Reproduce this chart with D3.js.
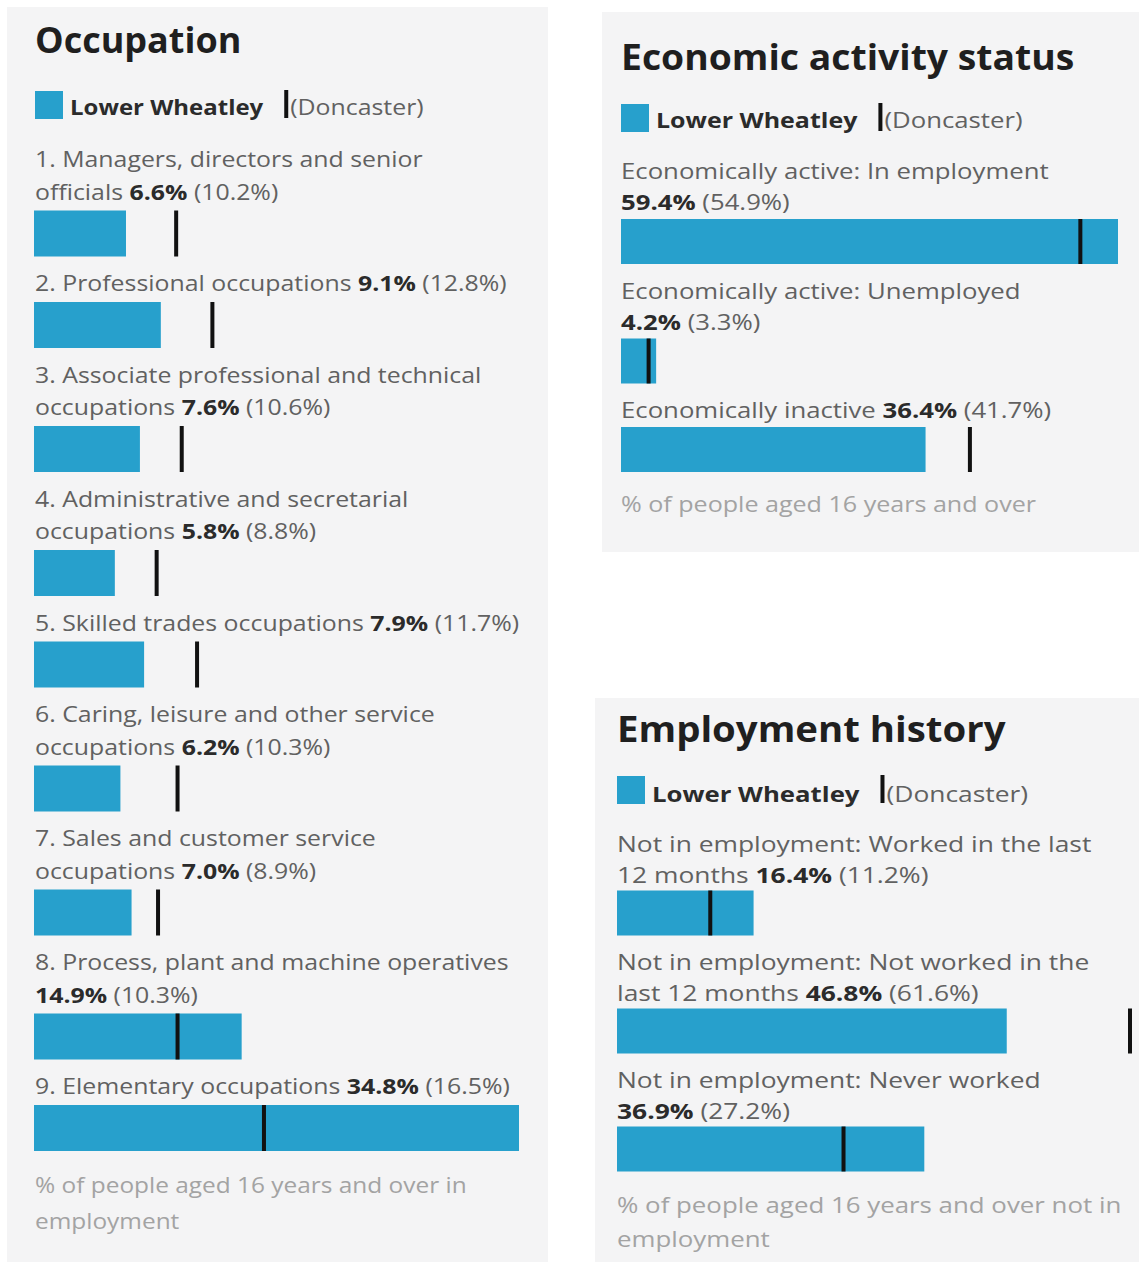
<!DOCTYPE html>
<html>
<head>
<meta charset="utf-8">
<script src="https://cdn.jsdelivr.net/npm/d3@7"></script>
<style>
  html, body { margin: 0; padding: 0; background: #ffffff; }
  svg { display: block; }
  text { font-family: "Open Sans", "Noto Sans", sans-serif; }
</style>
</head>
<body>
<svg id="chart" width="1139" height="1263"></svg>
<script>
// ---------------- DATA ----------------
const areaName = "Lower Wheatley";
const compareName = "(Doncaster)";

const occTitle = "Occupation";
const occLabels = [
  "1. Managers, directors and senior\nofficials",
  "2. Professional occupations",
  "3. Associate professional and technical\noccupations",
  "4. Administrative and secretarial\noccupations",
  "5. Skilled trades occupations",
  "6. Caring, leisure and other service\noccupations",
  "7. Sales and customer service\noccupations",
  "8. Process, plant and machine operatives\n",
  "9. Elementary occupations"
];
const occLocal = [6.6, 9.1, 7.6, 5.8, 7.9, 6.2, 7.0, 14.9, 34.8];
const occDoncaster = [10.2, 12.8, 10.6, 8.8, 11.7, 10.3, 8.9, 10.3, 16.5];
const occFooter = "% of people aged 16 years and over in\nemployment";

const ecoTitle = "Economic activity status";
const ecoLabels = [
  "Economically active: In employment\n",
  "Economically active: Unemployed\n",
  "Economically inactive"
];
const ecoLocal = [59.4, 4.2, 36.4];
const ecoDoncaster = [54.9, 3.3, 41.7];
const ecoFooter = "% of people aged 16 years and over";

const empTitle = "Employment history";
const empLabels = [
  "Not in employment: Worked in the last\n12 months",
  "Not in employment: Not worked in the\nlast 12 months",
  "Not in employment: Never worked\n"
];
const empLocal = [16.4, 46.8, 36.9];
const empDoncaster = [11.2, 61.6, 27.2];
const empFooter = "% of people aged 16 years and over not in\nemployment";

// ---------------- STYLE ----------------
const BAR = "#27a0cc";
const PANEL_BG = "#f4f4f5";
const TITLE_C = "#1f1f1f";
const LABEL_C = "#616161";
const VALUE_C = "#2b2b2b";
const FOOT_C = "#a3a3a3";
const MARK_C = "#111111";
const fmt = v => d3.format(".1f")(v) + "%";

const svg = d3.select("#chart");

// text drawn at (x, y) with a horizontal stretch sx
function stext(g, x, y, sx) {
  return g.append("text")
    .attr("transform", `translate(${x},${y}) scale(${sx},1)`)
    .attr("x", 0).attr("y", 0);
}

function drawPanel(cfg, title, labels, local, donc, footer) {
  const g = svg.append("g");
  g.append("rect")
    .attr("x", cfg.px).attr("y", cfg.py)
    .attr("width", cfg.pw).attr("height", cfg.ph)
    .attr("fill", PANEL_BG);

  stext(g, cfg.x0, cfg.titleY, cfg.titleSx)
    .attr("font-size", cfg.titleSize).attr("font-weight", 700)
    .attr("fill", TITLE_C)
    .text(title);

  // legend
  const sq = 28;
  g.append("rect")
    .attr("x", cfg.x0).attr("y", cfg.legTop)
    .attr("width", sq).attr("height", sq)
    .attr("fill", BAR);
  const lt = stext(g, cfg.x0 + sq + 7, cfg.legBase, cfg.legSx)
    .attr("font-size", cfg.fs).attr("font-weight", 700)
    .attr("fill", VALUE_C)
    .text(areaName);
  const ltw = lt.node().getComputedTextLength() * cfg.legSx;
  const mx = cfg.x0 + sq + 7 + ltw + 21;
  g.append("rect")
    .attr("x", mx).attr("y", cfg.legTop - 1)
    .attr("width", 4).attr("height", sq)
    .attr("fill", MARK_C);
  stext(g, mx + 6, cfg.legBase, cfg.labSx)
    .attr("font-size", cfg.fs)
    .attr("fill", LABEL_C)
    .text(compareName);

  const x = d3.scaleLinear()
    .domain([0, d3.max(local.concat(donc))])
    .range([cfg.r0, cfg.r1]);

  let y = cfg.firstBase;
  labels.forEach((lab, i) => {
    const lines = lab.split("\n");
    lines.forEach((ln, j) => {
      const t = stext(g, cfg.x0, y, cfg.labSx)
        .attr("font-size", cfg.fs)
        .attr("fill", LABEL_C);
      if (j < lines.length - 1) {
        t.text(ln);
        y += cfg.L;
      } else {
        if (ln.length) t.append("tspan").text(ln + " ");
        t.append("tspan").attr("font-weight", 700).attr("fill", VALUE_C).text(fmt(local[i]));
        t.append("tspan").text(" (" + fmt(donc[i]) + ")");
      }
    });
    const top = y + cfg.B;
    g.append("rect")
      .attr("x", x(0)).attr("y", top)
      .attr("width", x(local[i]) - x(0)).attr("height", cfg.H)
      .attr("fill", BAR);
    g.append("rect")
      .attr("x", x(donc[i]) - 2).attr("y", top)
      .attr("width", 4).attr("height", cfg.H)
      .attr("fill", MARK_C);
    y = top + cfg.H + cfg.G;
  });

  // footer
  let fy = y - cfg.G + cfg.footGap;
  footer.split("\n").forEach(ln => {
    stext(g, cfg.x0, fy, cfg.footSx)
      .attr("font-size", cfg.fs)
      .attr("fill", FOOT_C)
      .text(ln);
    fy += cfg.footL;
  });
}

drawPanel({
  px: 7, py: 7, pw: 541, ph: 1255,
  x0: 35, r0: 34, r1: 519,
  titleY: 53, titleSize: 36, titleSx: 1.0,
  legTop: 91, legBase: 115, legSx: 1.09,
  fs: 22, labSx: 1.13, footSx: 1.11,
  firstBase: 167, L: 32.5, B: 11, H: 46, G: 34.5,
  footGap: 42, footL: 36
}, occTitle, occLabels, occLocal, occDoncaster, occFooter);

drawPanel({
  px: 602, py: 12, pw: 537, ph: 540,
  x0: 621, r0: 621, r1: 1118,
  titleY: 70, titleSize: 36, titleSx: 1.037,
  legTop: 104, legBase: 128, legSx: 1.136,
  fs: 22, labSx: 1.17, footSx: 1.14,
  firstBase: 179, L: 31, B: 9, H: 45, G: 34.5,
  footGap: 40, footL: 34
}, ecoTitle, ecoLabels, ecoLocal, ecoDoncaster, ecoFooter);

drawPanel({
  px: 595, py: 698, pw: 544, ph: 564,
  x0: 617, r0: 617, r1: 1130,
  titleY: 742, titleSize: 36, titleSx: 1.066,
  legTop: 776, legBase: 802, legSx: 1.17,
  fs: 22, labSx: 1.2, footSx: 1.175,
  firstBase: 852, L: 30.5, B: 8, H: 45, G: 34.5,
  footGap: 41.5, footL: 34
}, empTitle, empLabels, empLocal, empDoncaster, empFooter);
</script>
</body>
</html>
